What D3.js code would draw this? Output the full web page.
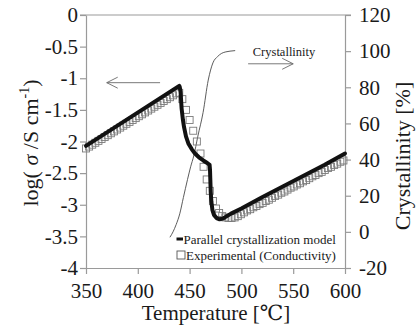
<!DOCTYPE html>
<html><head><meta charset="utf-8">
<script src="https://cdn.jsdelivr.net/npm/d3@7"></script>
<style>
html,body{margin:0;padding:0;background:#fff;}
svg text{font-family:"Liberation Serif","Tinos","Times New Roman",Times,"Nimbus Roman","DejaVu Serif",serif !important;}
</style></head>
<body>
<svg id="chart" width="419" height="329"></svg>
<script>
// ---- data ----
const leftTicks = [0, -0.5, -1, -1.5, -2, -2.5, -3, -3.5, -4];
const leftTickLabels = ["0", "-0.5", "-1", "-1.5", "-2", "-2.5", "-3", "-3.5", "-4"];
const rightTicks = [120, 100, 80, 60, 40, 20, 0, -20];
const rightTickLabels = ["120", "100", "80", "60", "40", "20", "0", "-20"];
const xTicks = [350, 400, 450, 500, 550, 600];

// Parallel crystallization model (log sigma)
const modelT = [350, 395, 440, 440.5, 441.3, 442.3, 443.5, 444.6, 446.5, 448.8, 452, 455.2, 459, 463.2, 467, 469.3, 469.7, 470.0, 470.4, 471, 472, 473.5, 476, 479, 482, 486, 490, 500, 520, 540, 560, 580, 600];
const modelV = [-2.07, -1.595, -1.12, -1.14, -1.22, -1.48, -1.65, -1.77, -1.92, -2.03, -2.12, -2.19, -2.25, -2.30, -2.34, -2.37, -2.45, -2.60, -2.80, -2.95, -3.08, -3.16, -3.21, -3.23, -3.22, -3.18, -3.14, -3.06, -2.88, -2.71, -2.54, -2.37, -2.19];

// Experimental (conductivity)
const expT = [350, 353, 356, 359, 362, 365, 368, 371, 374, 377, 380, 383, 386, 389, 392, 395, 398, 401, 404, 407, 410, 413, 416, 419, 422, 425, 428, 431, 434, 437,
  440, 443, 446.5, 450, 453.5, 457, 460.5, 463.5, 466.5, 469.5, 472.5, 475.5, 478.5, 481.5, 484.5, 487.5, 490.5, 493.5, 496.5, 499.5, 502.5,
  505.5, 508.5, 511.5, 514.5, 517.5, 520.5, 523.5, 526.5, 529.5, 532.5, 535.5, 538.5, 541.5, 544.5, 547.5, 550.5, 553.5, 556.5, 559.5, 562.5, 565.5, 568.5, 571.5, 574.5, 577.5, 580.5, 583.5, 586.5, 589.5, 592.5, 595.5, 598.5];
const expV = [-2.11, -2.08, -2.05, -2.02, -1.99, -1.96, -1.93, -1.90, -1.87, -1.84, -1.81, -1.78, -1.75, -1.72, -1.69, -1.66, -1.63, -1.60, -1.57, -1.54, -1.51, -1.48, -1.45, -1.42, -1.39, -1.36, -1.33, -1.30, -1.27, -1.24,
  -1.23, -1.33, -1.50, -1.66, -1.83, -2.00, -2.19, -2.40, -2.60, -2.78, -2.94, -3.06, -3.13, -3.18, -3.20, -3.21, -3.21, -3.20, -3.18, -3.15, -3.12,
  -3.09, -3.07, -3.04, -3.02, -2.99, -2.97, -2.94, -2.92, -2.89, -2.86, -2.84, -2.81, -2.79, -2.76, -2.73, -2.71, -2.68, -2.66, -2.63, -2.61, -2.58, -2.55, -2.53, -2.50, -2.48, -2.45, -2.42, -2.40, -2.37, -2.35, -2.32, -2.30];

// Crystallinity [%]
const crysT = [431, 434, 437, 440.5, 444, 448, 451, 454, 458, 463, 468, 472.5, 477, 481, 485, 489, 494];
const crysC = [-3, 0, 4, 10, 19, 29, 36, 42, 53, 66, 84, 93.5, 97, 98.8, 99.6, 100, 100.3];

// ---- chart ----
const svg = d3.select("#chart");
const x = d3.scaleLinear().domain([350, 600]).range([86, 345]);
const yL = d3.scaleLinear().domain([-4, 0]).range([268, 15]);
const yR = d3.scaleLinear().domain([-20, 120]).range([268, 15]);

const axisColor = "#9a9a9a";
const FS = 21;

// top frame line
svg.append("line").attr("x1", 80).attr("x2", 351).attr("y1", yL(0)).attr("y2", yL(0))
  .attr("stroke", axisColor).attr("stroke-width", 1.2);

function styleAxis(g) {
  g.attr("font-family", null);
  g.select(".domain").attr("stroke", axisColor).attr("stroke-width", 1.2);
  g.selectAll(".tick line").attr("stroke", axisColor).attr("stroke-width", 1.2);
  g.selectAll(".tick text").attr("fill", "#1a1a1a").style("font-size", FS + "px");
}

const gx = svg.append("g").attr("transform", "translate(0,268)")
  .call(d3.axisBottom(x).tickValues(xTicks).tickSize(6).tickPadding(9).tickFormat(d3.format("d")).tickSizeOuter(0));
styleAxis(gx);

const gl = svg.append("g").attr("transform", "translate(86,0)")
  .call(d3.axisLeft(yL).tickValues(leftTicks).tickSize(6).tickPadding(2).tickSizeOuter(0)
    .tickFormat((d, i) => leftTickLabels[i]));
styleAxis(gl);

const gr = svg.append("g").attr("transform", "translate(345,0)")
  .call(d3.axisRight(yR).tickValues(rightTicks).tickSize(6).tickPadding(8).tickSizeOuter(0)
    .tickFormat((d, i) => rightTickLabels[i]));
styleAxis(gr);

// crystallinity curve
svg.append("path")
  .datum(crysT.map((t, i) => [t, crysC[i]]))
  .attr("fill", "none").attr("stroke", "#4a4a4a").attr("stroke-width", 0.9)
  .attr("d", d3.line().x(d => x(d[0])).y(d => yR(d[1])).curve(d3.curveMonotoneX));

// experimental squares
const sq = 7;
svg.append("g").selectAll("rect")
  .data(expT.map((t, i) => [t, expV[i]]))
  .join("rect")
  .attr("x", d => x(d[0]) - sq / 2).attr("y", d => yL(d[1]) - sq / 2)
  .attr("width", sq).attr("height", sq)
  .attr("fill", "none").attr("stroke", "#7a7a7a").attr("stroke-width", 0.9);

// model line
svg.append("path")
  .datum(modelT.map((t, i) => [t, modelV[i]]))
  .attr("fill", "none").attr("stroke", "#111").attr("stroke-width", 4)
  .attr("stroke-linejoin", "round").attr("stroke-linecap", "round")
  .attr("d", d3.line().x(d => x(d[0])).y(d => yL(d[1])).curve(d3.curveLinear));

// annotation arrows
const arrowColor = "#6a6a6a";
function arrow(x1, y1, x2, y2) {
  const dir = Math.sign(x2 - x1);
  svg.append("line").attr("x1", x1).attr("y1", y1).attr("x2", x2).attr("y2", y2)
    .attr("stroke", arrowColor).attr("stroke-width", 0.9);
  svg.append("path").attr("d", `M${x2 - dir * 11},${y2 - 5.5}L${x2},${y2}L${x2 - dir * 11},${y2 + 5.5}`)
    .attr("fill", "none").attr("stroke", arrowColor).attr("stroke-width", 0.9);
}
arrow(x(421.5), yL(-1.07), x(370), yL(-1.07));
arrow(x(506.5), yR(93), x(550), yR(93));
svg.append("text").attr("x", x(511)).attr("y", yR(97.5))
  .style("font-size", "12.5px").attr("fill", "#1a1a1a").text("Crystallinity");

// legend
svg.append("line").attr("x1", 176.5).attr("x2", 183).attr("y1", 239).attr("y2", 239)
  .attr("stroke", "#111").attr("stroke-width", 3);
svg.append("text").attr("x", 183.5).attr("y", 243.5).style("font-size", "13px").attr("fill", "#1a1a1a")
  .text("Parallel crystallization model");
svg.append("rect").attr("x", 177).attr("y", 251).attr("width", 8).attr("height", 8)
  .attr("fill", "none").attr("stroke", "#555").attr("stroke-width", 0.9);
svg.append("text").attr("x", 186).attr("y", 259.5).style("font-size", "13px").attr("fill", "#1a1a1a")
  .text("Experimental (Conductivity)");

// axis titles
svg.append("text").attr("x", 216).attr("y", 320).attr("text-anchor", "middle")
  .style("font-size", FS + "px").attr("fill", "#1a1a1a")
  .text("Temperature [℃]");

const lt = svg.append("text").attr("transform", "translate(38,143) rotate(-90)")
  .attr("text-anchor", "middle").style("font-size", "22px").attr("fill", "#1a1a1a");
lt.append("tspan").text("log( ");
lt.append("tspan").style("font-style", "italic").text("σ");
lt.append("tspan").text(" /S cm");
lt.append("tspan").attr("dy", -9).style("font-size", "14px").text("-1");
lt.append("tspan").attr("dy", 9).text(")");

svg.append("text").attr("transform", "translate(410,156) rotate(-90)")
  .attr("text-anchor", "middle").style("font-size", "22px").attr("fill", "#1a1a1a")
  .text("Crystallinity [%]");
</script>
</body></html>
